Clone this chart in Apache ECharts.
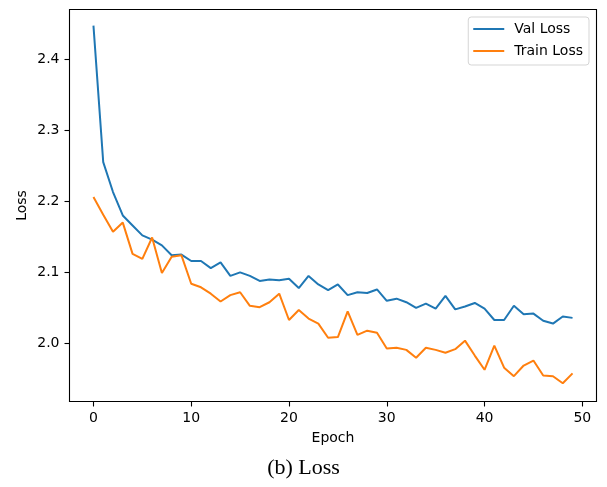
<!DOCTYPE html>
<html>
<head>
<meta charset="utf-8">
<script src="https://cdn.jsdelivr.net/npm/echarts@6/dist/echarts.min.js"></script>
<style>
html,body{margin:0;padding:0;background:#fff;}
#chart{width:607px;height:487px;}
</style>
</head>
<body>
<div id="chart"></div>
<script>
const epochs = Array.from({length: 50}, (_, i) => i);
const valLoss = [2.447, 2.255, 2.213, 2.180, 2.166, 2.152, 2.146, 2.138, 2.124, 2.125,
  2.116, 2.116, 2.106, 2.114, 2.095, 2.100, 2.095, 2.088, 2.090, 2.089,
  2.091, 2.078, 2.095, 2.083, 2.075, 2.083, 2.068, 2.072, 2.071, 2.076,
  2.060, 2.063, 2.058, 2.050, 2.056, 2.049, 2.067, 2.048, 2.052, 2.057,
  2.049, 2.033, 2.033, 2.053, 2.041, 2.042, 2.032, 2.028, 2.038, 2.036];
const trainLoss = [2.206, 2.181, 2.157, 2.170, 2.126, 2.119, 2.149, 2.099, 2.122, 2.124,
  2.084, 2.079, 2.070, 2.059, 2.068, 2.072, 2.053, 2.051, 2.058, 2.070,
  2.033, 2.047, 2.035, 2.028, 2.008, 2.009, 2.045, 2.012, 2.018, 2.015,
  1.993, 1.994, 1.991, 1.980, 1.994, 1.991, 1.987, 1.992, 2.004, 1.983,
  1.963, 1.997, 1.966, 1.954, 1.969, 1.976, 1.955, 1.954, 1.944, 1.958];
const xTicks = [0, 10, 20, 30, 40, 50];
const yTicks = [2.0, 2.1, 2.2, 2.3, 2.4];

const chart = echarts.init(document.getElementById('chart'));
const font = 'DejaVu Sans';
chart.setOption({
  animation: false,
  backgroundColor: '#fff',
  grid: {left: 69.5, right: 10.5, top: 9.5, bottom: 85.5, show: true, borderColor: '#000', borderWidth: 1.1, containLabel: false},
  legend: {
    right: 18, top: 17, orient: 'vertical', itemGap: 8,
    borderColor: '#d5d5d5', borderWidth: 1, borderRadius: 3,
    padding: [5, 6, 7, 5],
    icon: 'rect', itemWidth: 31, itemHeight: 2,
    textStyle: {fontFamily: font, fontSize: 14, color: '#000', padding: [0, 0, 0, 5]},
    data: ['Val Loss', 'Train Loss']
  },
  xAxis: {
    type: 'value', min: -2.45, max: 51.45,
    name: 'Epoch', nameLocation: 'middle', nameGap: 30, nameMoveOverlap: false,
    nameTextStyle: {fontFamily: font, fontSize: 14, color: '#000'},
    axisLine: {show: false, onZero: false},
    axisTick: {show: true, length: 5, lineStyle: {color: '#000', width: 1.1}, customValues: xTicks},
    axisLabel: {fontFamily: font, fontSize: 14, color: '#000', margin: 10, customValues: xTicks},
    splitLine: {show: false}
  },
  yAxis: {
    type: 'value', min: 1.9184, max: 2.4697,
    name: 'Loss', nameLocation: 'middle', nameGap: 40, nameRotate: 90, nameMoveOverlap: false,
    nameTextStyle: {fontFamily: font, fontSize: 14, color: '#000'},
    axisLine: {show: false, onZero: false},
    axisTick: {show: true, length: 5, lineStyle: {color: '#000', width: 1.1}, customValues: yTicks},
    axisLabel: {fontFamily: font, fontSize: 14, color: '#000', margin: 10, customValues: yTicks,
      formatter: v => v.toFixed(1)},
    splitLine: {show: false}
  },
  graphic: [{
    type: 'text', left: 'center', top: 457,
    style: {text: '(b) Loss', font: '22px "Liberation Serif"', fill: '#000'}
  }],
  series: [
    {name: 'Val Loss', type: 'line', showSymbol: false, symbol: 'none', color: '#1f77b4',
      lineStyle: {width: 2}, data: epochs.map((e, i) => [e, valLoss[i]])},
    {name: 'Train Loss', type: 'line', showSymbol: false, symbol: 'none', color: '#ff7f0e',
      lineStyle: {width: 2}, data: epochs.map((e, i) => [e, trainLoss[i]])}
  ]
});
</script>
</body>
</html>
